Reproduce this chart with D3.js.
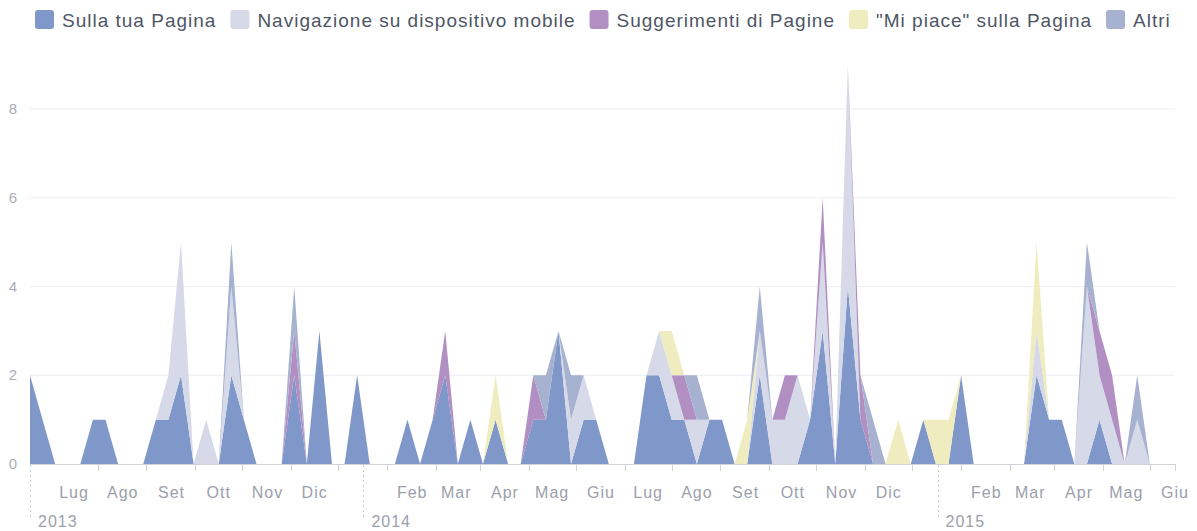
<!DOCTYPE html>
<html>
<head>
<meta charset="utf-8">
<script src="https://cdn.jsdelivr.net/npm/d3@7"></script>
<style>
  body { margin: 0; background: #fff; }
  text { font-family: "Liberation Sans", Arial, sans-serif; }
</style>
</head>
<body>
<svg id="chart" width="1197" height="531"></svg>
<script>
var svg = d3.select("#chart");

// series names, in stacking order (bottom to top)
var seriesNames = ["Sulla tua Pagina", "Navigazione su dispositivo mobile", "Suggerimenti di Pagine", "\"Mi piace\" sulla Pagina", "Altri"];
var seriesColors = ["#7f97c9", "#d5d9e8", "#b28fc2", "#efedbf", "#a7b1d0"];
var monthNames = ["Gen", "Feb", "Mar", "Apr", "Mag", "Giu", "Lug", "Ago", "Set", "Ott", "Nov", "Dic"];
var yTicks = [0, 2, 4, 6, 8];

// one value every 8 days, starting 3 June 2013
var startDate = new Date(2013, 5, 3);
var stepDays = 8;
var endDate = new Date(2015, 5, 1);

var sulla = [
  2, 1, 0, 0, 0, 1, 1, 0, 0, 0,
  1, 1, 2, 0, 0, 0, 2, 1, 0, 0,
  0, 2, 0, 3, 0, 0, 2, 0, 0, 0,
  1, 0, 1, 2, 0, 1, 0, 1, 0, 0,
  1, 1, 3, 0, 1, 1, 0, 0, 0, 2,
  2, 1, 1, 0, 1, 1, 0, 0, 2, 0,
  0, 0, 1, 3, 0, 4, 1, 0, 0, 0,
  0, 1, 0, 0, 2, 0, 0, 0, 0, 0,
  2, 1, 1, 0, 0, 1, 0, 0, 0, 0
];
var navigazione = [
  0, 0, 0, 0, 0, 0, 0, 0, 0, 0,
  0, 1, 3, 0, 1, 0, 2, 0, 0, 0,
  0, 0, 0, 0, 0, 0, 0, 0, 0, 0,
  0, 0, 0, 0, 0, 0, 0, 0, 0, 0,
  0, 0, 0, 1, 1, 0, 0, 0, 0, 0,
  1, 1, 0, 1, 0, 0, 0, 0, 1, 1,
  1, 2, 0, 2, 0, 5, 0, 0, 0, 0,
  0, 0, 0, 0, 0, 0, 0, 0, 0, 0,
  1, 0, 0, 0, 4, 1, 1, 0, 1, 0
];
var suggerimenti = [
  0, 0, 0, 0, 0, 0, 0, 0, 0, 0,
  0, 0, 0, 0, 0, 0, 0, 0, 0, 0,
  0, 1, 0, 0, 0, 0, 0, 0, 0, 0,
  0, 0, 0, 1, 0, 0, 0, 0, 0, 0,
  1, 0, 0, 0, 0, 0, 0, 0, 0, 0,
  0, 0, 1, 0, 0, 0, 0, 0, 0, 0,
  1, 0, 0, 1, 0, 0, 1, 0, 0, 0,
  0, 0, 0, 0, 0, 0, 0, 0, 0, 0,
  0, 0, 0, 0, 0, 1, 1, 0, 0, 0
];
var miPiace = [
  0, 0, 0, 0, 0, 0, 0, 0, 0, 0,
  0, 0, 0, 0, 0, 0, 0, 0, 0, 0,
  0, 0, 0, 0, 0, 0, 0, 0, 0, 0,
  0, 0, 0, 0, 0, 0, 0, 1, 0, 0,
  0, 0, 0, 0, 0, 0, 0, 0, 0, 0,
  0, 1, 0, 0, 0, 0, 0, 1, 0, 0,
  0, 0, 0, 0, 0, 0, 0, 0, 0, 1,
  0, 0, 1, 1, 0, 0, 0, 0, 0, 0,
  2, 0, 0, 0, 0, 0, 0, 0, 0, 0
];
var altri = [
  0, 0, 0, 0, 0, 0, 0, 0, 0, 0,
  0, 0, 0, 0, 0, 0, 1, 0, 0, 0,
  0, 1, 0, 0, 0, 0, 0, 0, 0, 0,
  0, 0, 0, 0, 0, 0, 0, 0, 0, 0,
  0, 1, 0, 1, 0, 0, 0, 0, 0, 0,
  0, 0, 0, 1, 0, 0, 0, 0, 1, 0,
  0, 0, 0, 0, 0, 0, 0, 1, 0, 0,
  0, 0, 0, 0, 0, 0, 0, 0, 0, 0,
  0, 0, 0, 0, 1, 0, 0, 0, 1, 0
];

var seriesValues = [sulla, navigazione, suggerimenti, miPiace, altri];

// build rows for d3.stack
var rows = sulla.map(function (v, i) {
  var row = { date: d3.timeDay.offset(startDate, i * stepDays) };
  seriesNames.forEach(function (name, k) { row[name] = seriesValues[k][i]; });
  return row;
});

var x = d3.scaleTime().domain([startDate, endDate]).range([30, 1175]);
var y = d3.scaleLinear().domain([0, 8]).range([464, 109]);

// gridlines
svg.append("g").selectAll("line")
  .data(yTicks.filter(function (d) { return d > 0; }))
  .enter().append("line")
  .attr("x1", 30).attr("x2", 1175)
  .attr("y1", function (d) { return y(d); })
  .attr("y2", function (d) { return y(d); })
  .style("stroke", "#eceef2")
  .style("stroke-width", 1);

// y tick labels
svg.append("g").selectAll("text")
  .data(yTicks)
  .enter().append("text")
  .attr("x", 13)
  .attr("y", function (d) { return y(d) + 5; })
  .attr("text-anchor", "middle")
  .style("font-size", "15px")
  .style("fill", "#a9adb5")
  .text(function (d) { return d; });

// stacked areas
var stack = d3.stack().keys(seriesNames);
var layers = stack(rows);

var area = d3.area()
  .x(function (d) { return x(d.data.date); })
  .y0(function (d) { return y(d[0]); })
  .y1(function (d) { return y(d[1]); });

svg.append("g").selectAll("path")
  .data(layers)
  .enter().append("path")
  .attr("d", area)
  .style("fill", function (d, i) { return seriesColors[i]; });

// x axis baseline
svg.append("line")
  .attr("x1", 30).attr("x2", 1176)
  .attr("y1", y(0) + 0.5).attr("y2", y(0) + 0.5)
  .style("stroke", "#cfd3da");

// small ticks in the middle of each month, plus one at the end
var midMonths = d3.timeMonth.range(new Date(2013, 6, 1), new Date(2015, 5, 1))
  .map(function (m) { return new Date(m.getFullYear(), m.getMonth(), 16); });
midMonths.push(endDate);

svg.append("g").selectAll("line")
  .data(midMonths)
  .enter().append("line")
  .attr("x1", function (d) { return Math.round(x(d)) + 0.5; })
  .attr("x2", function (d) { return Math.round(x(d)) + 0.5; })
  .attr("y1", y(0)).attr("y2", y(0) + 7)
  .style("stroke", "#cfd3da");

// month labels (January is replaced by the year marker)
var months = d3.timeMonth.range(new Date(2013, 6, 1), d3.timeDay.offset(endDate, 1))
  .filter(function (m) { return m.getMonth() !== 0; });

svg.append("g").selectAll("text")
  .data(months)
  .enter().append("text")
  .attr("x", function (d) { return x(d); })
  .attr("y", 498)
  .attr("text-anchor", "middle")
  .style("font-size", "16px")
  .style("letter-spacing", "1px")
  .style("fill", "#9ba0aa")
  .text(function (d) { return monthNames[d.getMonth()]; });

// year markers: dotted line + label
var years = [startDate, new Date(2014, 0, 1), new Date(2015, 0, 1)];

svg.append("g").selectAll("line")
  .data(years)
  .enter().append("line")
  .attr("x1", function (d) { return Math.round(x(d)) + 0.5; })
  .attr("x2", function (d) { return Math.round(x(d)) + 0.5; })
  .attr("y1", y(0) + 1).attr("y2", 520)
  .style("stroke", "#c9cdd4")
  .style("stroke-dasharray", "2,3");

svg.append("g").selectAll("text")
  .data(years)
  .enter().append("text")
  .attr("x", function (d) { return x(d) + 8; })
  .attr("y", 527)
  .style("font-size", "16px")
  .style("letter-spacing", "1px")
  .style("fill", "#9ba0aa")
  .text(function (d) { return d.getFullYear(); });

// legend
var legend = svg.append("g");
var legendX = 35;
seriesNames.forEach(function (name, i) {
  legend.append("rect")
    .attr("x", legendX).attr("y", 10)
    .attr("width", 19).attr("height", 19)
    .attr("rx", 3)
    .style("fill", seriesColors[i]);
  var t = legend.append("text")
    .attr("x", legendX + 27)
    .attr("y", 27)
    .style("font-size", "19px")
    .style("letter-spacing", "1px")
    .style("fill", "#4e5665")
    .text(name);
  legendX += 27 + t.node().getComputedTextLength() + 14;
});
</script>
</body>
</html>
